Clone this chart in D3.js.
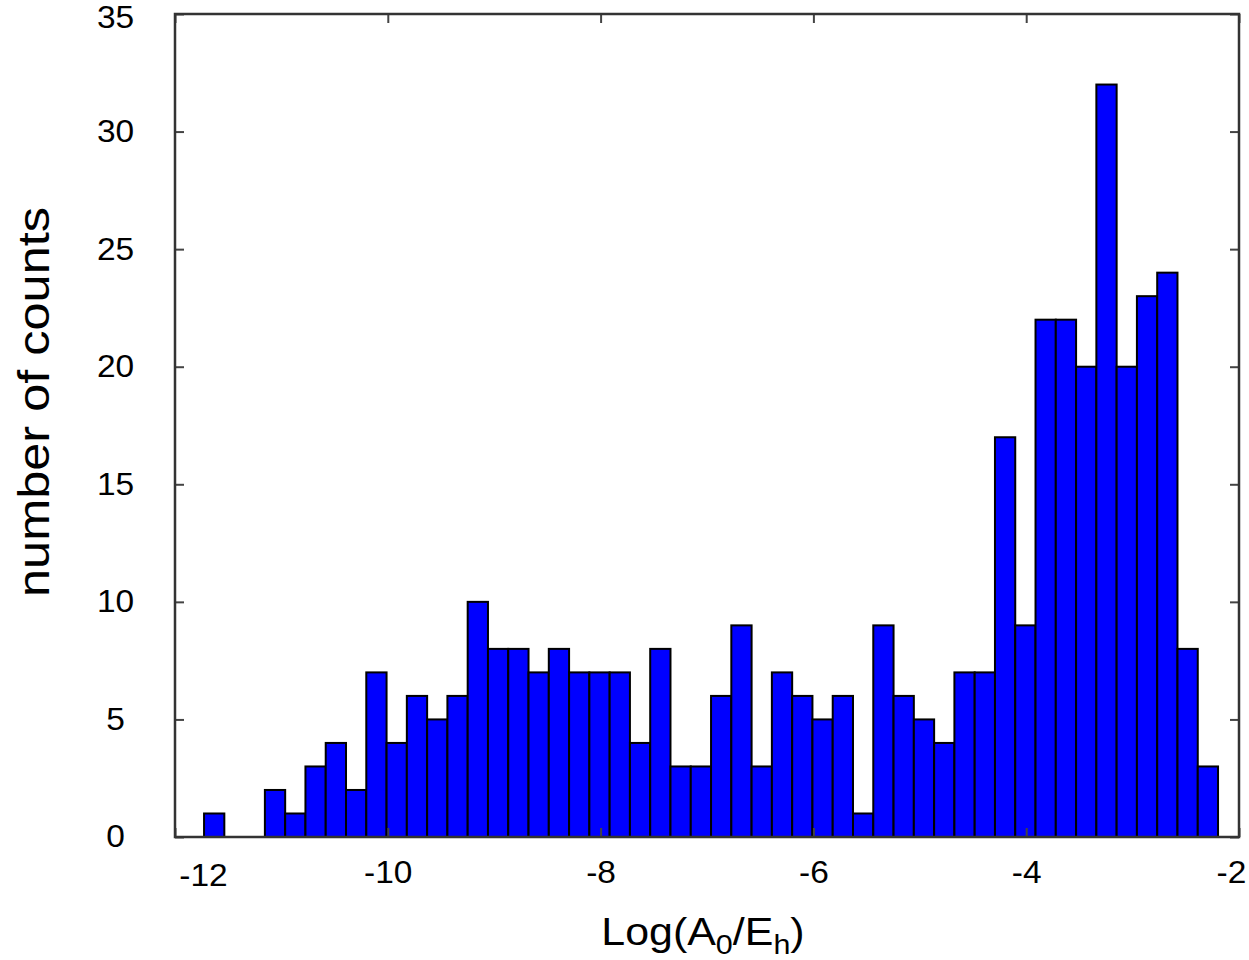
<!DOCTYPE html>
<html>
<head>
<meta charset="utf-8">
<script src="https://cdn.jsdelivr.net/npm/d3@7"></script>
<style>
body{margin:0;background:#fff;}
text{font-family:"Liberation Sans",Arial,sans-serif;}
</style>
</head>
<body>
<div id="chart"></div>
<script>
// histogram bins: start of first bin and bin width (data units), counts per bin
var binStart = -11.727;
var binWidth = 0.1906;
var counts = [1,0,0,2,1,3,4,2,7,4,6,5,6,10,8,8,7,8,7,7,7,4,8,3,3,6,9,3,7,6,5,6,1,9,6,5,4,7,7,17,9,22,22,20,32,20,23,24,8,3];
var xTicks = [-12,-10,-8,-6,-4,-2];
var yTicks = [0,5,10,15,20,25,30,35];

var svg = d3.select("#chart").append("svg").attr("width",1249).attr("height",960);

var x = d3.scaleLinear().domain([-12,-2]).range([175,1239]);
var y = d3.scaleLinear().domain([0,35]).range([837,14]);
var sx = 1.08; // labels in the original are a bit wide

var bins = counts.map(function(c,i){ return {x0: binStart + i*binWidth, x1: binStart + (i+1)*binWidth, n: c}; });

// bars
svg.append("g").selectAll("rect").data(bins.filter(function(d){return d.n>0;})).enter().append("rect")
    .attr("x", function(d){return x(d.x0);})
    .attr("y", function(d){return y(d.n);})
    .attr("width", function(d){return x(d.x1)-x(d.x0);})
    .attr("height", function(d){return y(0)-y(d.n);})
    .attr("fill","#0000ff")
    .attr("stroke","#000")
    .attr("stroke-width",2);

var fmt = function(d){ return String(d); };

// axes (ticks point inward)
var gx = svg.append("g").attr("transform","translate(0,837)")
    .call(d3.axisBottom(x).tickValues(xTicks).tickSize(-9).tickFormat(fmt));
var gxt = svg.append("g").attr("transform","translate(0,14)")
    .call(d3.axisTop(x).tickValues(xTicks).tickSize(-9).tickFormat(""));
var gy = svg.append("g").attr("transform","translate(175,0)")
    .call(d3.axisLeft(y).tickValues(yTicks).tickSize(-9).tickFormat(fmt));
var gyr = svg.append("g").attr("transform","translate(1239,0)")
    .call(d3.axisRight(y).tickValues(yTicks).tickSize(-9).tickFormat(""));

[gx,gxt,gy,gyr].forEach(function(g){
    g.select(".domain").remove();
    g.selectAll("line").attr("stroke","#444").attr("stroke-width",2);
    g.selectAll("text").attr("font-size",31).attr("fill","#000")
        .attr("font-family","'Liberation Sans',Arial,sans-serif");
});

gx.selectAll("text").attr("dy",null).attr("y",46).attr("x",0)
    .attr("transform","scale(" + sx + ",1)");
// end labels sit shifted in the original
gx.selectAll(".tick").filter(function(d){return d===-12;}).select("text")
    .attr("x",28/sx).attr("y",49);
gx.selectAll(".tick").filter(function(d){return d===-2;}).select("text")
    .attr("x",-8/sx);

gy.selectAll("text").attr("text-anchor","middle").attr("x",-59.5/sx)
    .attr("transform","scale(" + sx + ",1)");
gy.selectAll(".tick").filter(function(d){return d===35;}).select("text").attr("y",3.5);

// frame
svg.append("rect").attr("x",175).attr("y",14).attr("width",1239-175).attr("height",837-14)
    .attr("fill","none").attr("stroke","#333").attr("stroke-width",2.5);

// axis titles
svg.append("text").attr("transform","translate(49,402) rotate(-90)")
    .attr("text-anchor","middle").attr("font-size",44)
    .attr("font-family","'DejaVu Sans',Verdana,sans-serif")
    .attr("textLength",390).attr("lengthAdjust","spacingAndGlyphs")
    .text("number of counts");

var xl = svg.append("text").attr("transform","translate(703,945) scale(1.13,1)")
    .attr("text-anchor","middle").attr("font-size",38);
xl.append("tspan").text("Log(A");
xl.append("tspan").attr("font-size",27).attr("dy",9).text("0");
xl.append("tspan").attr("dy",-9).text("/E");
xl.append("tspan").attr("font-size",27).attr("dy",9).text("h");
xl.append("tspan").attr("dy",-9).text(")");
</script>
</body>
</html>
